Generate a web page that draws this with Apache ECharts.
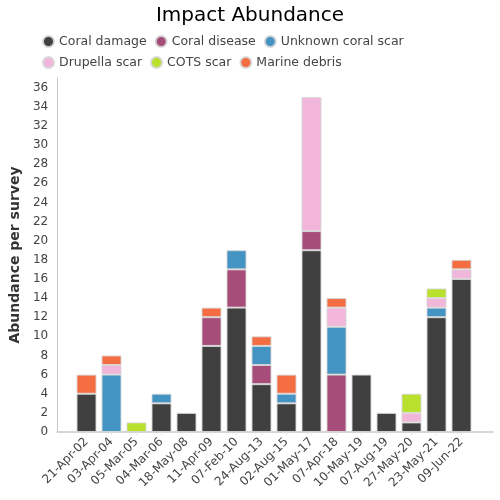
<!DOCTYPE html>
<html>
<head>
<meta charset="utf-8">
<script src="https://cdn.jsdelivr.net/npm/echarts@6/dist/echarts.min.js"></script>
<style>html,body{margin:0;padding:0;background:#fff}#c{width:500px;height:500px}</style>
</head>
<body>
<div id="c"></div>
<script>
var categories = ['21-Apr-02','03-Apr-04','05-Mar-05','04-Mar-06','18-May-08','11-Apr-09','07-Feb-10','24-Aug-13','02-Aug-15','01-May-17','07-Apr-18','10-May-19','07-Aug-19','27-May-20','23-May-21','09-Jun-22'];
var coralDamage   = [4,0,0,3,2,9,13,5,3,19,0,6,2,1,12,16];
var coralDisease  = [0,0,0,0,0,3,4,2,0,2,6,0,0,0,0,0];
var unknownScar   = [0,6,0,1,0,0,2,2,1,0,5,0,0,0,1,0];
var drupellaScar  = [0,1,0,0,0,0,0,0,0,14,2,0,0,1,1,1];
var cotsScar      = [0,0,1,0,0,0,0,0,0,0,0,0,0,2,1,0];
var marineDebris  = [2,1,0,0,0,1,0,1,2,0,1,0,0,0,0,1];
var yTicks = {min: 0, max: 37, interval: 1, labelStep: 2};

var seriesDefs = [
  ['Coral damage', coralDamage, '#404040'],
  ['Coral disease', coralDisease, '#a64d79'],
  ['Unknown coral scar', unknownScar, '#4393c3'],
  ['Drupella scar', drupellaScar, '#f1b6da'],
  ['COTS scar', cotsScar, '#b8e02c'],
  ['Marine debris', marineDebris, '#f46d43']
];

var series = seriesDefs.map(function (d) {
  return {
    name: d[0], type: 'bar', stack: 'all', xAxisIndex: 0, yAxisIndex: 0,
    barWidth: 20,
    data: d[1].map(function (v) { return v === 0 ? null : v; }),
    itemStyle: {color: d[2], borderColor: 'rgba(215,215,215,0.9)', borderWidth: 1},
    emphasis: {disabled: true}
  };
});

var chart = echarts.init(document.getElementById('c'), null, {renderer: 'canvas'});
chart.setOption({
  animation: false,
  color: seriesDefs.map(function (d) { return d[2]; }),
  title: {
    text: 'Impact Abundance', left: 'center', top: 1,
    textStyle: {fontFamily: 'DejaVu Sans', fontSize: 20, fontWeight: 'normal', color: '#000'}
  },
  legend: {
    left: 37, top: 30, width: 385, icon: 'circle', itemWidth: 11, itemHeight: 11,
    itemGap: 8, itemTextGap: 4,
    textStyle: {fontFamily: 'DejaVu Sans', fontSize: 12.5, color: '#444', lineHeight: 12},
    data: seriesDefs.map(function (d) { return d[0]; })
  },
  grid: [
    {left: 74, right: 26, top: 78, bottom: 68},
    {left: 55, right: 7, top: 78, bottom: 68}
  ],
  xAxis: [
    {
      type: 'category', gridIndex: 0, data: categories,
      axisLine: {show: false},
      axisTick: {show: true, alignWithLabel: true, length: 3, lineStyle: {color: '#e6e6e6'}},
      axisLabel: {rotate: 45, interval: 0, fontFamily: 'DejaVu Sans', fontSize: 12, color: '#444', margin: 8}
    },
    {
      type: 'value', gridIndex: 1, min: 0, max: 1,
      axisLine: {show: true, lineStyle: {color: '#c8c8c8', width: 1.5}},
      axisTick: {show: false}, axisLabel: {show: false}, splitLine: {show: false}
    }
  ],
  yAxis: [
    {
      type: 'value', gridIndex: 0, min: yTicks.min, max: yTicks.max, interval: yTicks.interval,
      show: false, splitLine: {show: false}
    },
    {
      type: 'value', gridIndex: 1, min: yTicks.min, max: yTicks.max, interval: yTicks.interval,
      name: 'Abundance per survey', nameLocation: 'middle', nameGap: 31,
      nameTextStyle: {fontFamily: 'DejaVu Sans', fontSize: 14, fontWeight: 'bold', color: '#333'},
      axisLine: {show: true, lineStyle: {color: '#c8c8c8', width: 1}},
      axisTick: {show: false}, splitLine: {show: false},
      axisLabel: {
        fontFamily: 'DejaVu Sans', fontSize: 12, color: '#444', margin: 9, showMaxLabel: false,
        formatter: function (v) { return v % yTicks.labelStep === 0 ? String(v) : ''; }
      }
    }
  ],
  series: series
});
</script>
</body>
</html>
